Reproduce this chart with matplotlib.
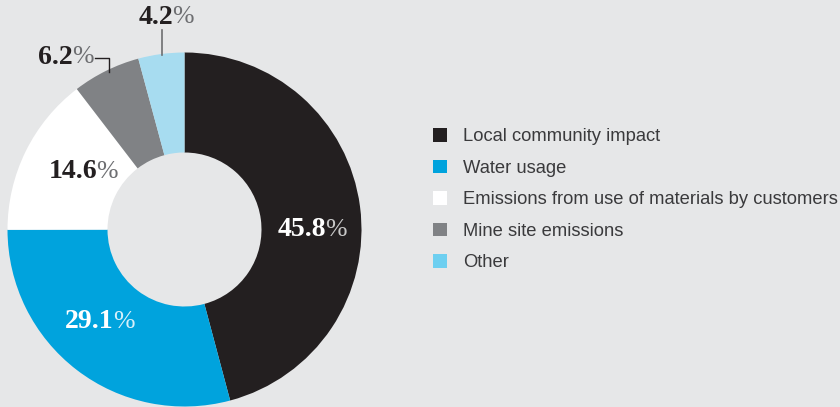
import matplotlib.pyplot as plt
from matplotlib.patches import Patch

categories = ["Local community impact", "Water usage",
              "Emissions from use of materials by customers",
              "Mine site emissions", "Other"]
values = [45.8, 29.1, 14.6, 6.2, 4.2]
pie_colors = ["#231f20", "#00a3dd", "#ffffff", "#808285", "#a7dcf0"]
legend_colors = ["#231f20", "#00a3dd", "#ffffff", "#808285", "#6dcff0"]

W, H = 840, 407
BG = "#e6e7e8"


def Y(y):
    # image pixel row -> data y
    return H - y


fig = plt.figure(figsize=(W / 100, H / 100), dpi=100, facecolor=BG)
ax = fig.add_axes([0, 0, 1, 1])
ax.set_facecolor(BG)

ax.pie(values, colors=pie_colors, startangle=90, counterclock=False,
       center=(184.5, Y(229.5)), radius=177,
       wedgeprops=dict(width=100, linewidth=0))

ax.set_xlim(0, W)
ax.set_ylim(0, H)
ax.set_aspect("equal")
ax.axis("off")

# value labels: bold number + light percent sign
labels = [
    # (x split, y, number colour, percent colour)
    (326, 230, "white", "#c8c8c8"),
    (114, 322, "white", "#d8f0fa"),
    (97, 172, "#231f20", "#6d6e71"),
    (73, 57, "#231f20", "#6d6e71"),
    (173, 17, "#231f20", "#6d6e71"),
]
for v, (xs, y, c_num, c_pct) in zip(values, labels):
    ax.text(xs, Y(y), f"{v:.1f}", ha="right", va="center",
            family="Liberation Serif", weight="bold", fontsize=20, color=c_num)
    ax.text(xs - 1, Y(y), "%", ha="left", va="center",
            family="Liberation Serif", fontsize=18.5, color=c_pct)

# leader lines
ax.plot([95, 109, 109], [Y(58), Y(58), Y(72)], color="#231f20", lw=1)
ax.plot([162, 162], [Y(30), Y(55)], color="#6d6e71", lw=1.2)

handles = [Patch(facecolor=c, edgecolor="none") for c in legend_colors]
leg = ax.legend(handles, categories, loc="upper left",
                bbox_to_anchor=(433 / W, 1 - 128 / H), frameon=False,
                prop=dict(family="Liberation Sans", size=13.2),
                handlelength=0.77, handleheight=0.77, handletextpad=0.87,
                labelspacing=0.78, borderpad=0, borderaxespad=0)
for t in leg.get_texts():
    t.set_color("#3a3a3c")

fig.savefig("out.png", dpi=100, facecolor=BG)
